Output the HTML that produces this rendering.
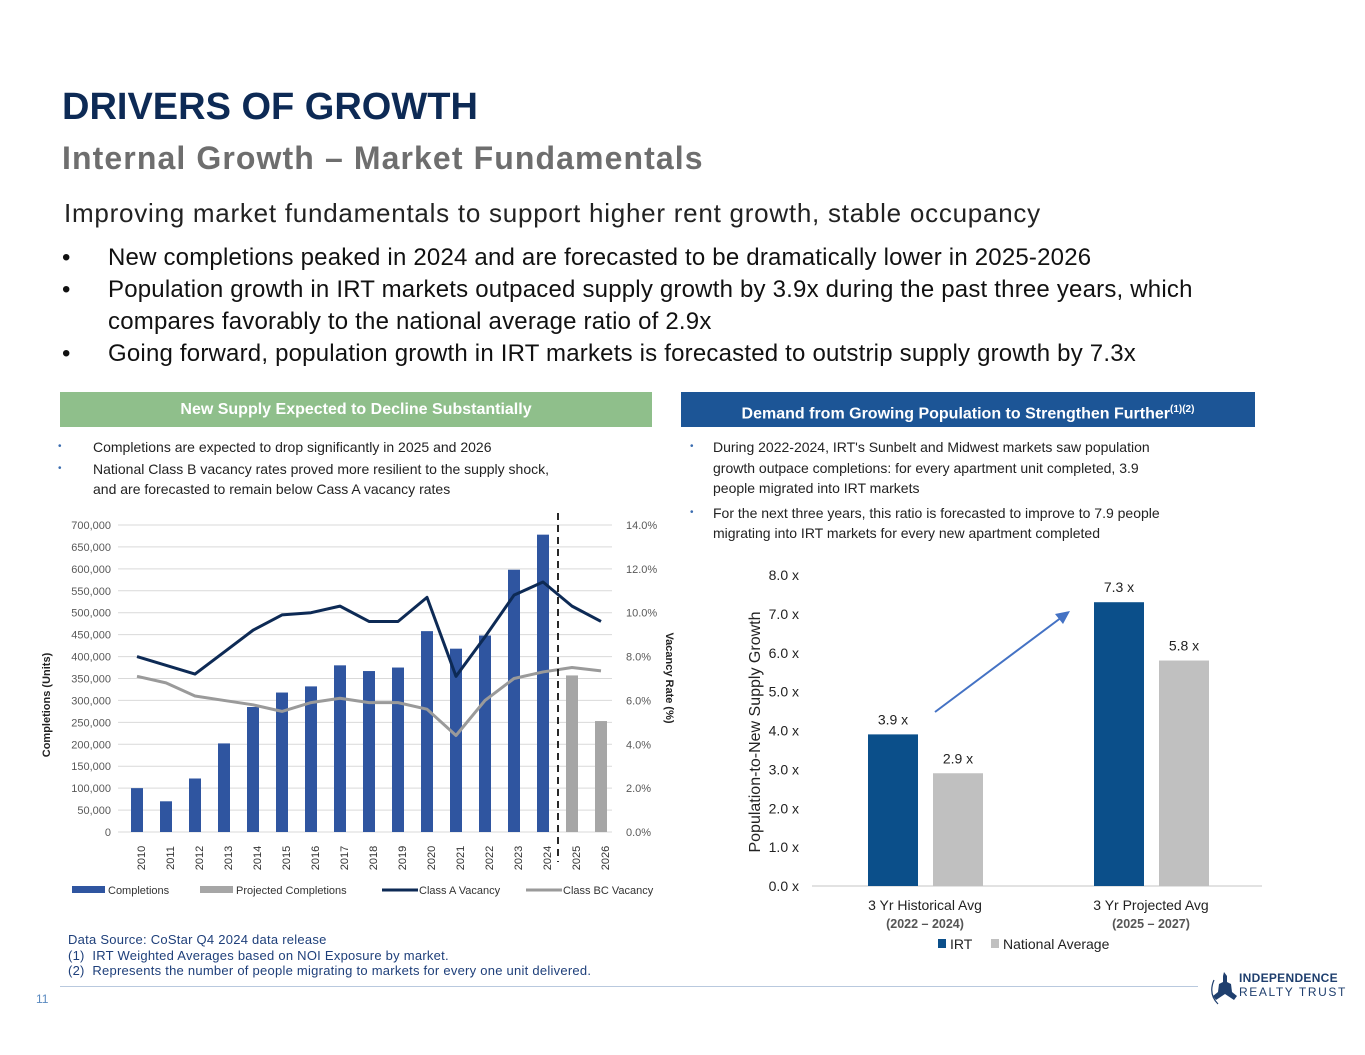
<!DOCTYPE html>
<html><head><meta charset="utf-8"><style>
body{margin:0;width:1365px;height:1055px;background:#fff;font-family:"Liberation Sans",sans-serif;position:relative;overflow:hidden}
.a{position:absolute;margin:0}
.nb{position:relative;padding-left:0}
</style></head><body>
<h1 class="a" style="left:62px;top:86px;font-size:38px;font-weight:bold;color:#0d2a55">DRIVERS OF GROWTH</h1>
<h2 class="a" style="left:62px;top:140px;font-size:32px;font-weight:bold;color:#6e6e6e;letter-spacing:1.1px">Internal Growth – Market Fundamentals</h2>
<div class="a" style="left:64px;top:198px;font-size:26px;color:#222;letter-spacing:0.75px">Improving market fundamentals to support higher rent growth, stable occupancy</div>
<div class="a" style="left:62px;top:242px;width:1200px;font-size:24px;color:#111;line-height:32px;letter-spacing:0.2px">
<div style="padding-left:46px;position:relative"><span style="position:absolute;left:0">•</span>New completions peaked in 2024 and are forecasted to be dramatically lower in 2025-2026</div>
<div style="padding-left:46px;position:relative"><span style="position:absolute;left:0">•</span>Population growth in IRT markets outpaced supply growth by 3.9x during the past three years, which<br>compares favorably to the national average ratio of 2.9x</div>
<div style="padding-left:46px;position:relative"><span style="position:absolute;left:0">•</span>Going forward, population growth in IRT markets is forecasted to outstrip supply growth by 7.3x</div>
</div>
<div class="a" style="left:60px;top:392px;width:592px;height:35px;background:#8fbf8b;color:#fff;font-weight:bold;font-size:16px;text-align:center;line-height:35px">New Supply Expected to Decline Substantially</div>
<div class="a" style="left:681px;top:392px;width:574px;height:35px;background:#1c5596;color:#fff;font-weight:bold;font-size:16px;text-align:center;line-height:35px">Demand from Growing Population to Strengthen Further<sup style="font-size:10px">(1)(2)</sup></div>
<div class="a" style="left:58px;top:437px;width:600px;font-size:14px;line-height:20px;color:#222">
<div style="padding-left:35px;position:relative"><span style="position:absolute;left:0;color:#3b6db0;font-size:10px">•</span>Completions are expected to drop significantly in 2025 and 2026</div>
<div style="padding-left:35px;position:relative;margin-top:2px"><span style="position:absolute;left:0;color:#3b6db0;font-size:10px">•</span>National Class B vacancy rates proved more resilient to the supply shock,<br>and are forecasted to remain below Cass A vacancy rates</div></div>
<div class="a" style="left:690px;top:437px;width:570px;font-size:14px;line-height:20.5px;color:#222">
<div style="padding-left:23px;position:relative"><span style="position:absolute;left:0;color:#3b6db0;font-size:10px">•</span>During 2022-2024, IRT's Sunbelt and Midwest markets saw population<br>growth outpace completions: for every apartment unit completed, 3.9<br>people migrated into IRT markets</div>
<div style="padding-left:23px;position:relative;margin-top:4px"><span style="position:absolute;left:0;color:#3b6db0;font-size:10px">•</span>For the next three years, this ratio is forecasted to improve to 7.9 people<br>migrating into IRT markets for every new apartment completed</div></div>

<svg class="a" style="left:0;top:0" width="1365" height="1055">
<g id="left"></g>
<g id="right"></g>
</svg>

<div class="a" style="left:68px;top:932px;font-size:13px;color:#1e3f7a;line-height:15.5px;letter-spacing:0.25px">Data Source: CoStar Q4 2024 data release<br>(1)&nbsp; IRT Weighted Averages based on NOI Exposure by market.<br>(2)&nbsp; Represents the number of people migrating to markets for every one unit delivered.</div>
<div class="a" style="left:36px;top:992px;font-size:12px;color:#5a8ac0">11</div>
<div class="a" style="left:60px;top:986px;width:1138px;height:1px;background:#b9c9de"></div>
<div class="a" style="left:1210px;top:968px;width:145px;height:40px">
<svg width="30" height="40" style="position:absolute;left:0;top:0"><path d="M14 4 L17 8 L17 14 L21 16 L22 24 L27 28 L24 32 L15 26 L6 32 L3 28 L8 24 L9 16 L13 14 L13 8Z" fill="#1f3f6e"/><path d="M4 12 Q-2 26 8 36" stroke="#1f3f6e" fill="none" stroke-width="1.2"/></svg>
<div style="position:absolute;left:29px;top:3px;font-size:12px;font-weight:bold;color:#1f3f6e;letter-spacing:0.3px">INDEPENDENCE</div>
<div style="position:absolute;left:29px;top:17px;font-size:12px;color:#1f3f6e;letter-spacing:1.6px">REALTY TRUST</div></div>

<script>
const years=['2010','2011','2012','2013','2014','2015','2016','2017','2018','2019','2020','2021','2022','2023','2024','2025','2026'];
const completions=[100000,70000,122000,202000,285000,318000,332000,380000,367000,375000,458000,418000,448000,598000,678000,null,null];
const projected=[null,null,null,null,null,null,null,null,null,null,null,null,null,null,null,357000,253000];
const classA=[8.0,7.6,7.2,8.2,9.2,9.9,10.0,10.3,9.6,9.6,10.7,7.1,8.9,10.8,11.4,10.3,9.6];
const classBC=[7.1,6.8,6.2,6.0,5.8,5.5,5.9,6.1,5.9,5.9,5.6,4.4,6.0,7.0,7.3,7.5,7.35];
const leftTicks=[0,50000,100000,150000,200000,250000,300000,350000,400000,450000,500000,550000,600000,650000,700000];
const rightTicks=[0,2,4,6,8,10,14,12];
const groups=['3 Yr Historical Avg','3 Yr Projected Avg'];
const groupSub=['(2022 – 2024)','(2025 – 2027)'];
const irt=[3.9,7.3];
const national=[2.9,5.8];
const ratioTicks=[0,1,2,3,4,5,6,7,8];

const NS='http://www.w3.org/2000/svg';
function mk(p,t,a,txt){const e=document.createElementNS(NS,t);for(const k in a)e.setAttribute(k,a[k]);if(txt!=null)e.textContent=txt;p.appendChild(e);return e;}
const L=document.getElementById('left');
const y0=832,y1=525,xs=i=>137+i*(601-137)/16;
const yL=v=>y0-(v/700000)*(y0-y1), yR=v=>y0-(v/14)*(y0-y1);
leftTicks.forEach(t=>{
 let g=mk(L,'line',{x1:118,x2:612,y1:yL(t),y2:yL(t),stroke:'#d9d9d9','stroke-width':1});
 
 let e=mk(L,'text',{x:111,y:yL(t)+4,'text-anchor':'end','font-size':11,fill:'#595959'},t.toLocaleString('en-US'));
 
});
rightTicks.forEach(t=>{let e=mk(L,'text',{x:626,y:yR(t)+4,'font-size':11,fill:'#595959'},t.toFixed(1)+'%');
 });
years.forEach((y,i)=>{
 if(completions[i]!=null){let r=mk(L,'rect',{x:xs(i)-6,y:yL(completions[i]),width:12,height:y0-yL(completions[i]),fill:'#2f55a0'});
  }
 if(projected[i]!=null){let r=mk(L,'rect',{x:xs(i)-6,y:yL(projected[i]),width:12,height:y0-yL(projected[i]),fill:'#a6a6a6'});
  }
 let e=mk(L,'text',{x:xs(i)+4,y:862,'text-anchor':'middle','font-size':11,fill:'#333',transform:`rotate(-90 ${xs(i)+4} 858)`},y);
 
});
function line(arr,col,name){let p=mk(L,'polyline',{points:arr.map((v,i)=>xs(i)+','+yR(v)).join(' '),fill:'none',stroke:col,'stroke-width':3,'stroke-linejoin':'round'});
 }
line(classBC,'#9a9a9a','class-bc-line');line(classA,'#0d2a55','class-a-line');
let d=mk(L,'line',{x1:558,x2:558,y1:513,y2:862,stroke:'#111','stroke-width':1.8,'stroke-dasharray':'7,5'});

let t1=mk(L,'text',{x:50,y:705,'font-size':11,'font-weight':'bold',fill:'#222','text-anchor':'middle',transform:'rotate(-90 50 705)'},'Completions (Units)');

let t2=mk(L,'text',{x:666,y:678,'font-size':11,'font-weight':'bold',fill:'#222','text-anchor':'middle',transform:'rotate(90 666 678)'},'Vacancy Rate (%)');

const leg=[['Completions','rect','#2f55a0',72],['Projected Completions','rect','#a6a6a6',200],['Class A  Vacancy','line','#0d2a55',382],['Class BC Vacancy','line','#9a9a9a',526]];
leg.forEach(l=>{
 if(l[1]=='rect'){let r=mk(L,'rect',{x:l[3],y:886,width:33,height:7,fill:l[2]});}
 else{let r=mk(L,'line',{x1:l[3],x2:l[3]+36,y1:890,y2:890,stroke:l[2],'stroke-width':3});}
 let e=mk(L,'text',{x:l[3]+(l[1]=='rect'?36:37),y:894,'font-size':11,fill:'#333'},l[0]);
 
});

const R=document.getElementById('right');
const ry0=886,ry1=575,ry=v=>ry0-(v/8)*(ry0-ry1);
const gx=[868,1094];
ratioTicks.forEach(t=>{let e=mk(R,'text',{x:799,y:ry(t)+5,'text-anchor':'end','font-size':14,fill:'#222'},t.toFixed(1)+' x');
 });
let bl=mk(R,'line',{x1:812,x2:1262,y1:ry0,y2:ry0,stroke:'#d9d9d9','stroke-width':1.5});

groups.forEach((g,i)=>{
 let b=mk(R,'rect',{x:gx[i],y:ry(irt[i]),width:50,height:ry0-ry(irt[i]),fill:'#0b4f8a'});
 
 let c=mk(R,'rect',{x:gx[i]+65,y:ry(national[i]),width:50,height:ry0-ry(national[i]),fill:'#c0c0c0'});
 
 let l1=mk(R,'text',{x:gx[i]+25,y:ry(irt[i])-10,'text-anchor':'middle','font-size':14,fill:'#222'},irt[i].toFixed(1)+' x');
 
 let l2=mk(R,'text',{x:gx[i]+90,y:ry(national[i])-10,'text-anchor':'middle','font-size':14,fill:'#222'},national[i].toFixed(1)+' x');
 
 let a=mk(R,'text',{x:gx[i]+57,y:910,'text-anchor':'middle','font-size':14,fill:'#222'},g);
 
 let s=mk(R,'text',{x:gx[i]+57,y:928,'text-anchor':'middle','font-size':12.5,'font-weight':'bold',fill:'#555'},groupSub[i]);
 
});
let yt=mk(R,'text',{x:760,y:732,'text-anchor':'middle','font-size':16,fill:'#222',transform:'rotate(-90 760 732)'},'Population-to-New Supply Growth');

let ar=mk(R,'line',{x1:935,y1:712,x2:1062,y2:617,stroke:'#4472c4','stroke-width':2});

let ah=mk(R,'polygon',{points:'1070,611 1055,614 1063,624',fill:'#4472c4'});

let s1=mk(R,'rect',{x:938,y:939,width:8,height:9,fill:'#0b4f8a'});
let e1=mk(R,'text',{x:950,y:949,'font-size':14,fill:'#222'},'IRT');
let s2=mk(R,'rect',{x:991,y:939,width:8,height:9,fill:'#c0c0c0'});
let e2=mk(R,'text',{x:1003,y:949,'font-size':14,fill:'#222'},'National Average');
</script>
</body></html>
